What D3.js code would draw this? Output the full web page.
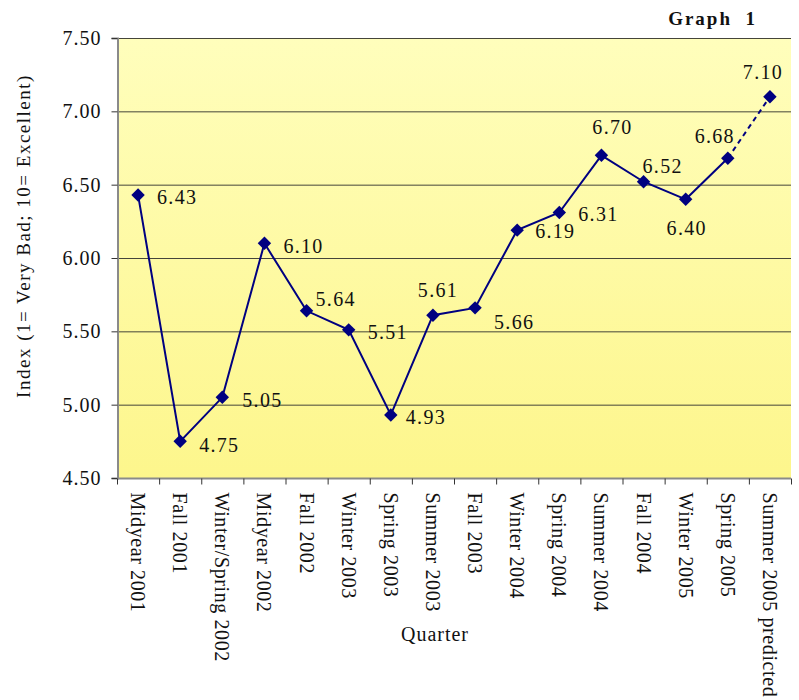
<!DOCTYPE html>
<html>
<head>
<meta charset="utf-8">
<script src="https://cdnjs.cloudflare.com/ajax/libs/d3/7.8.5/d3.min.js"></script>
<style>
  html, body { margin: 0; padding: 0; background: #fff; }
  svg { display: block; }
  text { font-family: "Liberation Serif", "DejaVu Serif", serif; fill: #111; }
</style>
</head>
<body>
<div id="chart"></div>
<script>
// Survey quarters and the index value for each
const quarters = [
  "Midyear 2001", "Fall 2001", "Winter/Spring 2002", "Midyear 2002",
  "Fall 2002", "Winter 2003", "Spring 2003", "Summer 2003", "Fall 2003",
  "Winter 2004", "Spring 2004", "Summer 2004", "Fall 2004", "Winter 2005",
  "Spring 2005", "Summer 2005 predicted"
];
const indexValues = [6.43, 4.75, 5.05, 6.10, 5.64, 5.51, 4.93, 5.61, 5.66,
                     6.19, 6.31, 6.70, 6.52, 6.40, 6.68, 7.10];
const yTicks = [4.5, 5.0, 5.5, 6.0, 6.5, 7.0, 7.5];

// Value label placement around each marker: [dx, dy, anchor]
const labelOffsets = [
  [19, 9, "start"], [19, 11, "start"], [20, 10, "start"], [19, 10, "start"],
  [9, -5, "start"], [19, 9, "start"], [15, 9, "start"], [5, -18, "middle"],
  [19, 21, "start"], [18, 8, "start"], [19, 8, "start"], [11, -21, "middle"],
  [-1, -9, "start"], [1, 36, "middle"], [-13, -15, "middle"], [-7, -18, "middle"]
];

const W = 799, H = 700;
const margin = { left: 117, right: 8, top: 38, bottom: 222 };
const x0 = margin.left, x1 = W - margin.right;
const y0 = margin.top, y1 = H - margin.bottom;

const svg = d3.select("#chart").append("svg")
  .attr("width", W).attr("height", H);

const defs = svg.append("defs");
const grad = defs.append("linearGradient")
  .attr("id", "plotFill").attr("x1", 0).attr("y1", 0).attr("x2", 0).attr("y2", 1);
grad.append("stop").attr("offset", "0%").attr("stop-color", "#FFFEBC");
grad.append("stop").attr("offset", "100%").attr("stop-color", "#FDF68C");

const x = d3.scaleBand().domain(quarters).range([x0, x1]).padding(0);
const y = d3.scaleLinear().domain([4.5, 7.5]).range([y1, y0]);

// Plot background
svg.append("rect")
  .attr("x", x0).attr("y", y0)
  .attr("width", x1 - x0).attr("height", y1 - y0)
  .attr("fill", "url(#plotFill)");

// Horizontal grid lines
svg.append("g")
  .selectAll("line")
  .data(yTicks.filter(t => t > 4.5))
  .join("line")
  .attr("x1", x0).attr("x2", x1)
  .attr("y1", d => y(d) + 0.5).attr("y2", d => y(d) + 0.5)
  .attr("stroke", "#45453a").attr("stroke-width", 1);

// Y axis
const yAxis = svg.append("g")
  .attr("transform", `translate(${x0 + 0.5},0)`)
  .call(d3.axisLeft(y).tickValues(yTicks).tickFormat(d3.format(".2f"))
    .tickSize(6).tickPadding(10))
  .attr("font-family", null)
  .attr("font-size", null);
yAxis.select(".domain").attr("stroke", "#8a8a8a").attr("stroke-width", 2);
yAxis.selectAll(".tick line").attr("stroke", "#333");
yAxis.selectAll(".tick text")
  .style("font-size", "20px")
  .style("letter-spacing", "1px")
  .attr("fill", "#111");

// X axis: ticks on band boundaries, labels at band centres
const xAxisG = svg.append("g").attr("transform", `translate(0,${y1 + 0.5})`);
xAxisG.append("line")
  .attr("x1", x0).attr("x2", x1)
  .attr("stroke", "#8a8a8a").attr("stroke-width", 2);
xAxisG.selectAll("line.tk")
  .data(quarters.map(q => x(q)).concat([x1]))
  .join("line").attr("class", "tk")
  .attr("x1", d => d + 0.5).attr("x2", d => d + 0.5)
  .attr("y1", 0).attr("y2", 6)
  .attr("stroke", "#333");
xAxisG.selectAll("text")
  .data(quarters)
  .join("text")
  .attr("transform", d => `translate(${x(d) + x.bandwidth() / 2},14) rotate(90)`)
  .attr("dy", "0.35em")
  .attr("text-anchor", "start")
  .style("font-size", "20px")
  .style("letter-spacing", "0.6px")
  .text(d => d);

// Line: solid for observed quarters, dashed to the predicted one
const pts = quarters.map((q, i) => [x(q) + x.bandwidth() / 2, y(indexValues[i])]);
const line = d3.line();
const n = pts.length;
svg.append("path")
  .attr("d", line(pts.slice(0, n - 1)))
  .attr("fill", "none").attr("stroke", "#000080").attr("stroke-width", 2);
svg.append("path")
  .attr("d", line(pts.slice(n - 2)))
  .attr("fill", "none").attr("stroke", "#000080").attr("stroke-width", 2)
  .attr("stroke-dasharray", "5,4");

// Diamond markers
const diamond = d3.symbol().type(d3.symbolDiamond2).size(115);
svg.append("g").selectAll("path")
  .data(pts)
  .join("path")
  .attr("transform", d => `translate(${d[0]},${d[1]})`)
  .attr("d", diamond)
  .attr("fill", "#000080");

// Value labels
svg.append("g").selectAll("text")
  .data(indexValues)
  .join("text")
  .attr("x", (d, i) => pts[i][0] + labelOffsets[i][0])
  .attr("y", (d, i) => pts[i][1] + labelOffsets[i][1])
  .attr("text-anchor", (d, i) => labelOffsets[i][2])
  .style("font-size", "20px")
  .style("letter-spacing", "1.3px")
  .text(d => d.toFixed(2));

// Axis titles
svg.append("text")
  .attr("transform", `translate(30,236) rotate(-90)`)
  .attr("text-anchor", "middle")
  .style("font-size", "19px")
  .style("letter-spacing", "1.5px")
  .text("Index (1= Very Bad; 10= Excellent)");

svg.append("text")
  .attr("x", 435).attr("y", 641)
  .attr("text-anchor", "middle")
  .style("font-size", "20px")
  .style("letter-spacing", "1px")
  .text("Quarter");

// Chart number
svg.append("text")
  .attr("x", 757).attr("y", 25)
  .attr("text-anchor", "end")
  .attr("xml:space", "preserve")
  .style("font-size", "19px")
  .style("font-weight", "bold")
  .style("letter-spacing", "2px")
  .text("Graph  1");
</script>
</body>
</html>
